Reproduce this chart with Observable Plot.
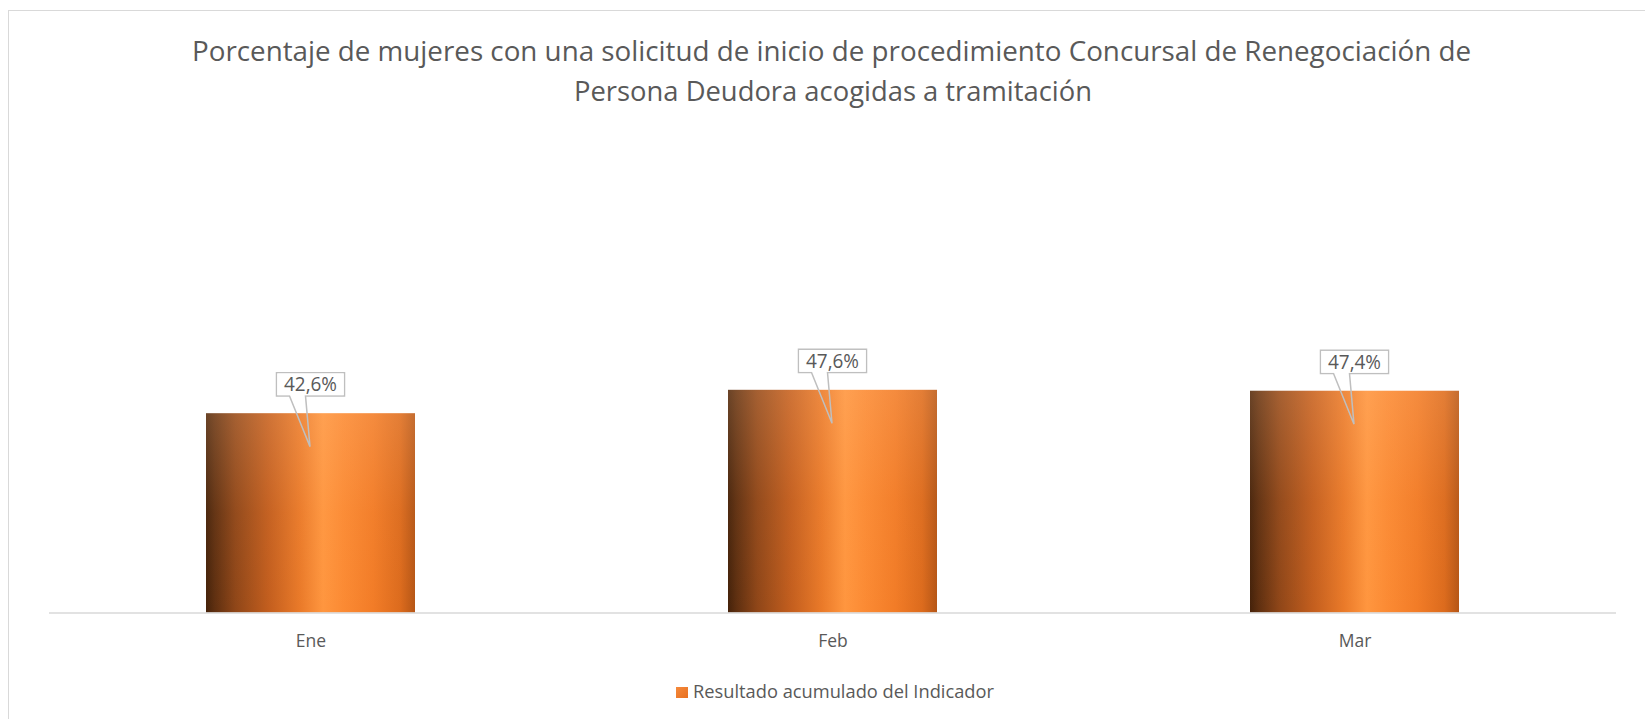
<!DOCTYPE html>
<html>
<head>
<meta charset="utf-8">
<script src="https://cdn.jsdelivr.net/npm/d3@7"></script>
<script src="https://cdn.jsdelivr.net/npm/@observablehq/plot@0.6"></script>
<style>
html, body { margin: 0; padding: 0; background: #fff; width: 1645px; height: 719px; overflow: hidden; }
#wrap { position: relative; width: 1645px; height: 719px; font-family: "Open Sans", sans-serif; }
#frame { position: absolute; left: 8px; top: 10px; width: 1700px; height: 800px;
  border-left: 1.5px solid #d9d9d9; border-top: 1.5px solid #d9d9d9; box-sizing: border-box; }
#title { position: absolute; left: 0; top: 0; }
#chart { position: absolute; left: 0; top: 130px; }
#legend { position: absolute; left: 0; top: 660px; }
</style>
</head>
<body>
<div id="wrap">
  <div id="frame"></div>
  <svg id="title" width="1645" height="130"></svg>
  <div id="chart"></div>
  <svg id="legend" width="1645" height="59"></svg>
</div>
<script>
// ---- data ----
const months = ["Ene", "Feb", "Mar"];
const values = [42.6, 47.6, 47.4];
const valueLabels = ["42,6%", "47,6%", "47,4%"];
const seriesName = "Resultado acumulado del Indicador";
const titleLines = [
  "Porcentaje de mujeres con una solicitud de inicio de procedimiento Concursal de Renegociación de",
  "Persona Deudora acogidas a tramitación"
];

const data = months.map((m, i) => ({month: m, value: values[i], label: valueLabels[i]}));

const FONT = "'Open Sans', sans-serif";
const TEXT = "#595959";

// ---- title ----
const tsvg = d3.select("#title");
const titleSpecs = [
  {x: 831.5, y: 61, len: 1279},
  {x: 833, y: 101, len: 518}
];
titleLines.forEach((t, i) => {
  tsvg.append("text")
    .attr("x", titleSpecs[i].x).attr("y", titleSpecs[i].y)
    .attr("text-anchor", "middle")
    .attr("font-family", FONT).attr("font-size", 27)
    .attr("fill", TEXT)
    .attr("textLength", titleSpecs[i].len)
    .attr("lengthAdjust", "spacingAndGlyphs")
    .text(t);
});

// ---- defs for gradients ----
function defsMark() {
  const defs = d3.create("svg:defs");
  const g = defs.append("linearGradient").attr("id", "barGrad")
    .attr("x1", 0).attr("x2", 1).attr("y1", 0).attr("y2", 0);
  [[0, "#45220a"], [0.04, "#5e2f10"], [0.14, "#8f4618"], [0.3, "#c35e1e"],
   [0.45, "#ea7a29"], [0.56, "#ff963f"], [0.66, "#fb8a33"], [0.8, "#f27c27"],
   [0.93, "#dc6b1d"], [1, "#b65616"]].forEach(([o, c]) =>
    g.append("stop").attr("offset", o).attr("stop-color", c));
  const s = defs.append("linearGradient").attr("id", "barShade")
    .attr("x1", 0).attr("x2", 0).attr("y1", 0).attr("y2", 1);
  [[0, "#ffc89a", 0.2], [0.5, "#ffc89a", 0.04], [1, "#ffc89a", 0]].forEach(([o, c, a]) =>
    s.append("stop").attr("offset", o).attr("stop-color", c).attr("stop-opacity", a));
  return defs.node();
}

// ---- callouts (drawn through Plot's scales) ----
function calloutMark(index, scales) {
  const x = scales.x, y = scales.y;
  const bw = x.bandwidth();
  const g = d3.create("svg:g");
  data.forEach(d => {
    const cx = x(d.month) + bw / 2;
    const yt = y(d.value);
    const l = cx - 34, r = cx + 34, t = yt - 40.6, b = yt - 17.3;
    const tipX = cx - 0.5, tipY = yt + 33.4;
    g.append("path")
      .attr("d", `M${l},${t}H${r}V${b}H${cx - 5}L${tipX},${tipY}L${cx - 21},${b}H${l}Z`)
      .attr("fill", "none")
      .attr("stroke", "#bfbfbf")
      .attr("stroke-width", 1.5)
      .attr("stroke-linejoin", "miter");
    g.append("rect")
      .attr("x", l + 0.75).attr("y", t + 0.75)
      .attr("width", r - l - 1.5).attr("height", b - t - 1.5)
      .attr("fill", "#fff");
    g.append("text")
      .attr("x", cx).attr("y", (t + b) / 2)
      .attr("dy", "0.36em")
      .attr("text-anchor", "middle")
      .attr("font-family", FONT).attr("font-size", 20)
      .attr("fill", TEXT)
      .attr("textLength", 53)
      .attr("lengthAdjust", "spacingAndGlyphs")
      .text(d.label);
  });
  return g.node();
}

// ---- chart ----
const chart = Plot.plot({
  width: 1645,
  height: 530,
  marginLeft: 49,
  marginRight: 29,
  marginTop: 14.6,
  marginBottom: 47.4,
  style: {fontFamily: FONT, fontSize: "17.5px", color: TEXT, background: "transparent"},
  x: {domain: months, paddingInner: 0.6, paddingOuter: 0.3, label: null},
  y: {domain: [0, 100], axis: null},
  marks: [
    defsMark,
    Plot.barY(data, {x: "month", y: "value", fill: "url(#barGrad)"}),
    Plot.barY(data, {x: "month", y: "value", fill: "url(#barShade)"}),
    Plot.ruleY([0], {stroke: "#d9d9d9", strokeWidth: 1.5}),
    calloutMark,
    Plot.axisX({tickSize: 0, tickPadding: 21, fontSize: 17.5, fill: TEXT, label: null})
  ]
});
document.getElementById("chart").appendChild(chart);

// ---- legend ----
const lsvg = d3.select("#legend");
const lg = lsvg.append("defs").append("linearGradient").attr("id", "swGrad")
  .attr("x1", 0).attr("x2", 1).attr("y1", 0).attr("y2", 1);
lg.append("stop").attr("offset", 0).attr("stop-color", "#f58a3c");
lg.append("stop").attr("offset", 1).attr("stop-color", "#e8701f");
lsvg.append("rect").attr("x", 676).attr("y", 27).attr("width", 12).attr("height", 11)
  .attr("fill", "url(#swGrad)");
lsvg.append("text").attr("x", 693).attr("y", 37.7)
  .attr("font-family", FONT).attr("font-size", 18).attr("fill", TEXT)
  .attr("textLength", 301).attr("lengthAdjust", "spacingAndGlyphs")
  .text(seriesName);
</script>
</body>
</html>
